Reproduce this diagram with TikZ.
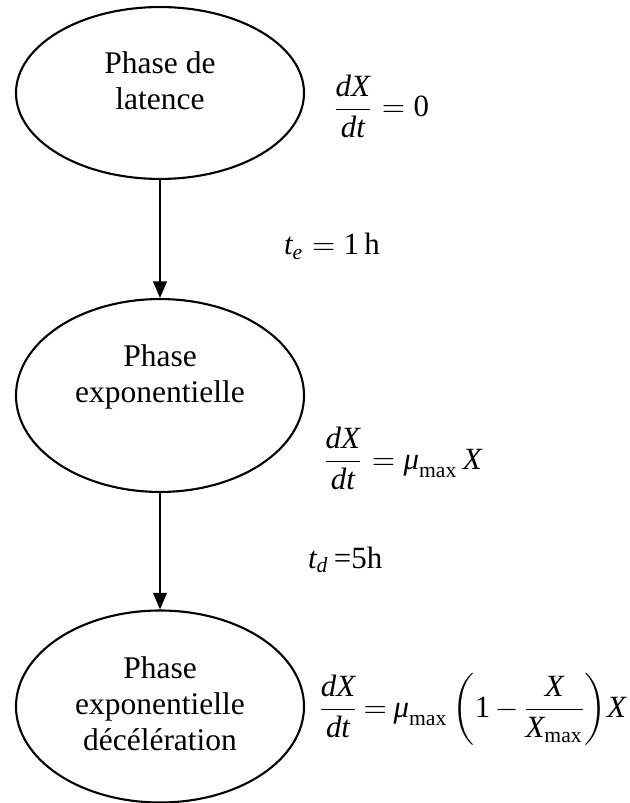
\documentclass[tikz,border=0pt]{standalone}
\usepackage{fontspec}
\usepackage{amsmath}
\setmainfont{Liberation Serif}
\usetikzlibrary{arrows.meta,shapes.geometric}
\newcommand{\itx}[1]{\text{\itshape #1}}
\begin{document}
\begin{tikzpicture}[x=0.33333pt,y=-0.33333pt, line width=0.7pt,
  phase/.style={draw, ellipse, minimum width=96pt, inner sep=0},
  lbl/.style={anchor=north, align=center, inner sep=0, font=\fontsize{10.5}{12}\selectfont},
  eq/.style={anchor=base west, inner sep=0, font=\fontsize{10.3}{12}\selectfont},
  arr/.style={-{Triangle[width=4.5pt,length=5.5pt]}}]
\useasboundingbox (0,0) rectangle (629,803);
\node[phase, minimum height=57.3pt] (e1) at (160,93) {};
\node[phase, minimum height=64.3pt] (e2) at (160,395.5) {};
\node[phase, minimum height=64pt] (e3) at (160,706.5) {};
\node[lbl] (t1) at (160,50.5) {Phase de\\latence};
\node[lbl] (t2) at (160,343.5) {Phase\\exponentielle};
\node[lbl] (t3) at (160,655.5) {Phase\\exponentielle\\décélération};
\draw[arr] (e1.south) -- (e2.north);
\draw[arr] (e2.south) -- (e3.north);
\node[eq] (q1) at (331,117) {$\displaystyle\frac{\itx{dX}}{\itx{dt}} = \text{0}$};
\node[eq] (q2) at (321,469) {$\displaystyle\frac{\itx{dX}}{\itx{dt}} = \itx{μ}_{\text{max}}\,\itx{X}$};
\node[eq] (q3) at (318,717) {$\thickmuskip=4mu\medmuskip=3mu\nulldelimiterspace=0.6pt\displaystyle\frac{\itx{dX}}{\itx{dt}} = \itx{μ}_{\text{max}}\,{\left(\text{1}-\frac{\itx{X}}{\itx{X}_{\text{max}}}\right)}\itx{X}$};
\node[eq] (c1) at (283,255) {$\itx{t}_{\itx{e}} = \text{1\,h}$};
\node[eq] (c2) at (307,568) {$\itx{t}_{\itx{d}}\,\text{=5h}$};
\end{tikzpicture}
\end{document}
